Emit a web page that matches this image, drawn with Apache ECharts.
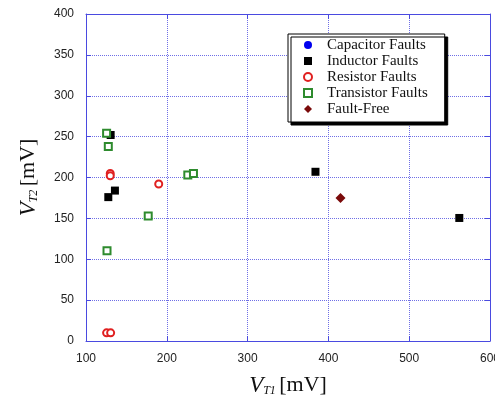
<!DOCTYPE html>
<html><head><meta charset="utf-8">
<script src="https://cdn.jsdelivr.net/npm/echarts@6/dist/echarts.min.js"></script>
<style>html,body{margin:0;padding:0;background:#fff}#c{width:495px;height:401px}</style>
</head><body><div id="c"></div>
<script>
const seriesNames = ['Capacitor Faults','Inductor Faults','Resistor Faults','Transistor Faults','Fault-Free'];
const capacitorFaults = [];
const inductorFaults = [[130.5,252],[127.6,176],[135.8,184],[384,207],[562,150.5]];
const resistorFaults = [[130,205],[130,202],[190,192],[125.5,10],[130.5,10]];
const transistorFaults = [[125.5,254],[127.6,238],[226,203],[233,205],[177,153],[126,110.5]];
const faultFree = [[415,175]];
const xTicks = {min:100, max:600, interval:100};
const yTicks = {min:0, max:400, interval:50};

const axisBlue = '#4a4ae0';
const gridBlue = '#6f6fe6';
const chart = echarts.init(document.getElementById('c'), null, {renderer:'canvas'});
const baseAxis = (o) => Object.assign({
  type:'value',
  axisLine:{show:true, onZero:false, lineStyle:{color:axisBlue, width:1}},
  axisTick:{show:true, inside:true, length:5, lineStyle:{color:axisBlue, width:1}},
  splitLine:{show:false},
}, o);
chart.setOption({
  animation:false,
  grid:{left:86, right:5, top:14, bottom:60, containLabel:false, outerBoundsMode:'none'},
  legend:{
    orient:'vertical', left:288, top:34,
    padding:[3,17,5,15],
    itemWidth:8, itemHeight:8, itemGap:0,
    backgroundColor:'#fff', borderColor:'#000', borderWidth:1,
    shadowColor:'#000', shadowBlur:0, shadowOffsetX:3, shadowOffsetY:3,
    textStyle:{fontFamily:'Liberation Serif', fontSize:15, color:'#111', lineHeight:16, padding:[0,0,0,10]},
    data:seriesNames
  },
  xAxis:[
    baseAxis(Object.assign({}, xTicks, {position:'bottom',
      axisLabel:{show:true, margin:12, fontFamily:'Liberation Sans', fontSize:12, color:'#222'},
      splitLine:{show:true, lineStyle:{color:gridBlue, type:'dotted', width:1}},
      name:'{v|V}{s|T1} {u|[mV]}', nameLocation:'middle', nameGap:33,
      nameTextStyle:{rich:{
        v:{fontFamily:'Liberation Serif', fontStyle:'italic', fontSize:23, color:'#111'},
        s:{fontFamily:'Liberation Serif', fontStyle:'italic', fontSize:12, color:'#111', verticalAlign:'bottom', padding:[10,0,0,0]},
        u:{fontFamily:'Liberation Serif', fontSize:22, color:'#111'}
      }}
    })),
    baseAxis(Object.assign({}, xTicks, {position:'top', axisLabel:{show:false}}))
  ],
  yAxis:[
    baseAxis(Object.assign({}, yTicks, {position:'left',
      axisLabel:{show:true, margin:12, fontFamily:'Liberation Sans', fontSize:12, color:'#222'},
      splitLine:{show:true, lineStyle:{color:gridBlue, type:'dotted', width:1}},
      name:'{v|V}{s|T2} {u|[mV]}', nameLocation:'middle', nameGap:46,
      nameTextStyle:{rich:{
        v:{fontFamily:'Liberation Serif', fontStyle:'italic', fontSize:23, color:'#111'},
        s:{fontFamily:'Liberation Serif', fontStyle:'italic', fontSize:12, color:'#111', verticalAlign:'bottom', padding:[10,0,0,0]},
        u:{fontFamily:'Liberation Serif', fontSize:22, color:'#111'}
      }}
    })),
    baseAxis(Object.assign({}, yTicks, {position:'right', axisLabel:{show:false}}))
  ],
  series:[
    {name:seriesNames[0], type:'scatter', data:capacitorFaults, symbol:'circle', symbolSize:8, itemStyle:{color:'#0000ee', opacity:1}},
    {name:seriesNames[1], type:'scatter', data:inductorFaults, symbol:'rect', symbolSize:8, itemStyle:{color:'#000', opacity:1}},
    {name:seriesNames[2], type:'scatter', data:resistorFaults, symbol:'emptyCircle', symbolSize:7, itemStyle:{color:'#e02020', borderWidth:1.5, opacity:1}},
    {name:seriesNames[3], type:'scatter', data:transistorFaults, symbol:'emptyRect', symbolSize:7, itemStyle:{color:'#2e8b2e', borderWidth:1.3, opacity:1}},
    {name:seriesNames[4], type:'scatter', data:faultFree, symbol:'diamond', symbolSize:10, itemStyle:{color:'#7a0a0a', opacity:1}}
  ]
});
</script></body></html>
